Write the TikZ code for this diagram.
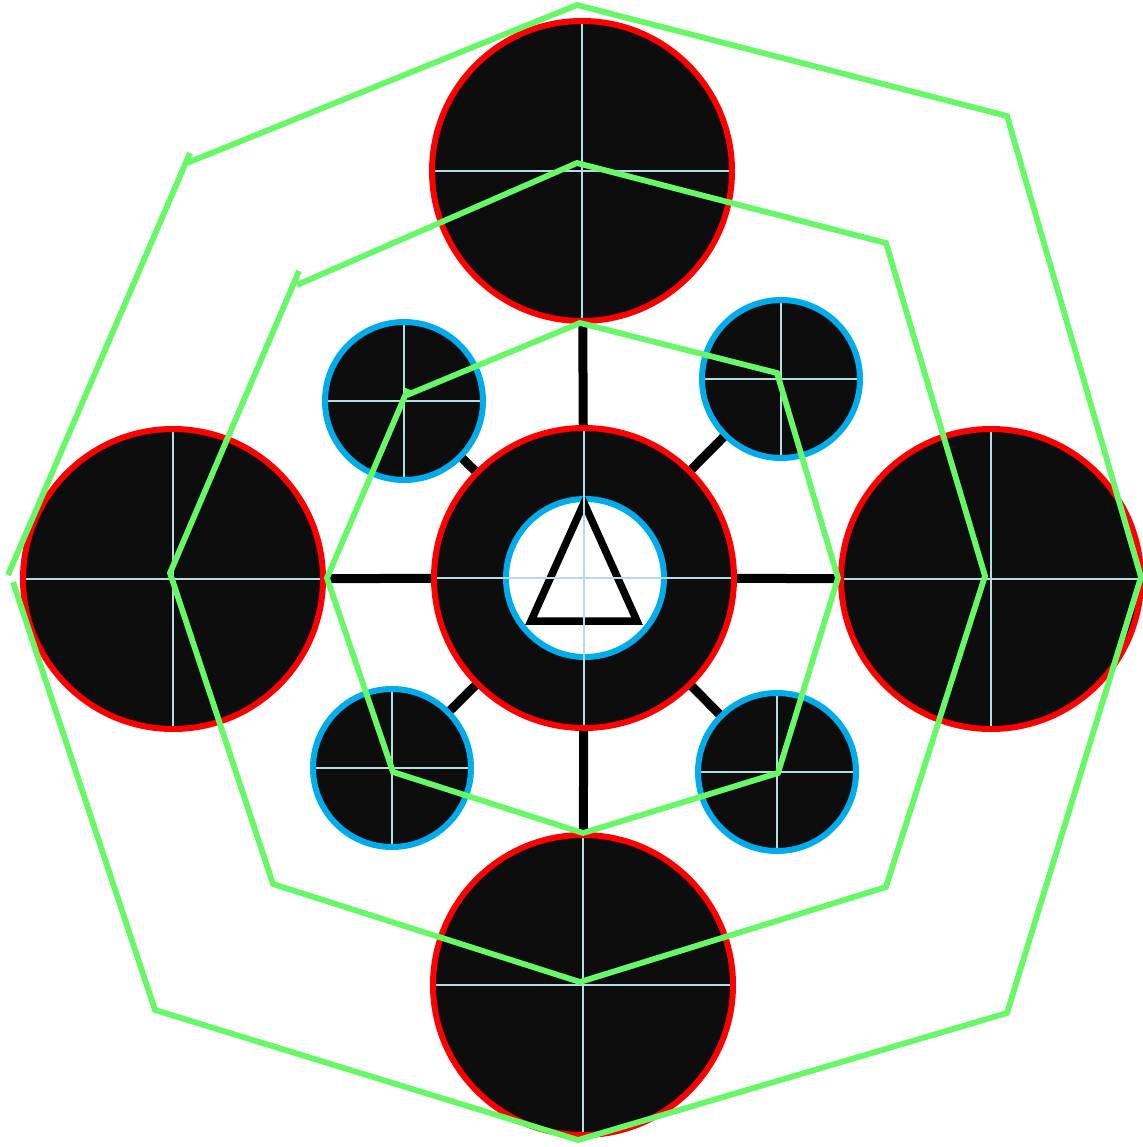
\documentclass[tikz,border=0pt]{standalone}
\definecolor{ringred}{RGB}{255,0,0}
\definecolor{ringblue}{RGB}{0,172,236}
\definecolor{hexgreen}{RGB}{102,248,102}
\definecolor{crossc}{RGB}{178,222,228}
\definecolor{disk}{RGB}{13,13,13}
\begin{document}
\begin{tikzpicture}[x=1pt,y=-1pt,
  crossln/.style={draw=crossc, line width=2.2pt},
  bigdisk/.style={circle, draw=ringred, line width=6pt, fill=disk, minimum size=300pt, inner sep=0pt,
    path picture={\draw[crossln] (path picture bounding box.north) -- (path picture bounding box.south)
                                (path picture bounding box.west) -- (path picture bounding box.east);}},
  smalldisk/.style={bigdisk, draw=ringblue, minimum size=158pt},
  spokeln/.style={line width=9pt, draw=black},
  hexline/.style={draw=hexgreen, line width=5.8pt, line join=miter},
]
\useasboundingbox[fill=white] (0,0) rectangle (1142,1147);

% circles
\node[bigdisk] (T) at (582,171) {};
\node[bigdisk] (L) at (173,579) {};
\node[bigdisk] (R) at (991,579) {};
\node[bigdisk] (B) at (583,985) {};
\node[circle, draw=ringred, line width=6pt, fill=disk, minimum size=300pt, inner sep=0pt] (C) at (584,578) {};
\node[smalldisk] (TL) at (404,401) {};
\node[smalldisk] (TR) at (781,379) {};
\node[smalldisk] (BL) at (392,768) {};
\node[smalldisk] (BR) at (777,772) {};

% spokes
\foreach \n in {T,L,R,B,TL,TR,BL,BR}{\draw[spokeln] (C) -- (\n);}

% centre
\node[circle, draw=ringblue, line width=6pt, fill=white, minimum size=158pt, inner sep=0pt] (I) at (585,578) {};
\coordinate (ta) at (584,503);
\coordinate (tb) at (531,621);
\coordinate (tc) at (637,621);
\draw[line width=7.5pt, black, line join=miter] (ta) -- (tb) -- (tc) -- cycle;
\draw[crossln] ([yshift=-6pt]C.north) -- ([yshift=6pt]C.south)
               ([xshift=6pt]C.west) -- ([xshift=-6pt]C.east);

% green polylines
\coordinate (o1) at (187,163);
\coordinate (o2) at (577,5);
\coordinate (o3) at (1007,116);
\coordinate (o4) at (1141,577);
\coordinate (o5) at (1007,1013);
\coordinate (o6) at (578,1140);
\coordinate (o7) at (155,1010);
\coordinate (o8) at (13,582);
\coordinate (o9) at (8,575);
\coordinate (o10) at (190,153);
\draw[hexline] (o1) -- (o2) -- (o3) -- (o4) -- (o5) -- (o6) -- (o7) -- (o8);
\draw[hexline] (o9) -- (o10);

\coordinate (m1) at (297,285);
\coordinate (m2) at (577,163);
\coordinate (m3) at (886,243);
\coordinate (m4) at (985,576);
\coordinate (m5) at (886,887);
\coordinate (m6) at (580,982);
\coordinate (m7) at (273,884);
\coordinate (m8) at (170,573);
\coordinate (m9) at (299,271);
\draw[hexline] (m1) -- (m2) -- (m3) -- (m4) -- (m5) -- (m6) -- (m7) -- (m8) -- (m9);

\coordinate (i1) at (407,395);
\coordinate (i2) at (580,323);
\coordinate (i3) at (777,373);
\coordinate (i4) at (838,578);
\coordinate (i5) at (778,773);
\coordinate (i6) at (583,833);
\coordinate (i7) at (393,772);
\coordinate (i8) at (327,578);
\coordinate (i9) at (408,389);
\draw[hexline] (i1) -- (i2) -- (i3) -- (i4) -- (i5) -- (i6) -- (i7) -- (i8) -- (i9);
\end{tikzpicture}
\end{document}
